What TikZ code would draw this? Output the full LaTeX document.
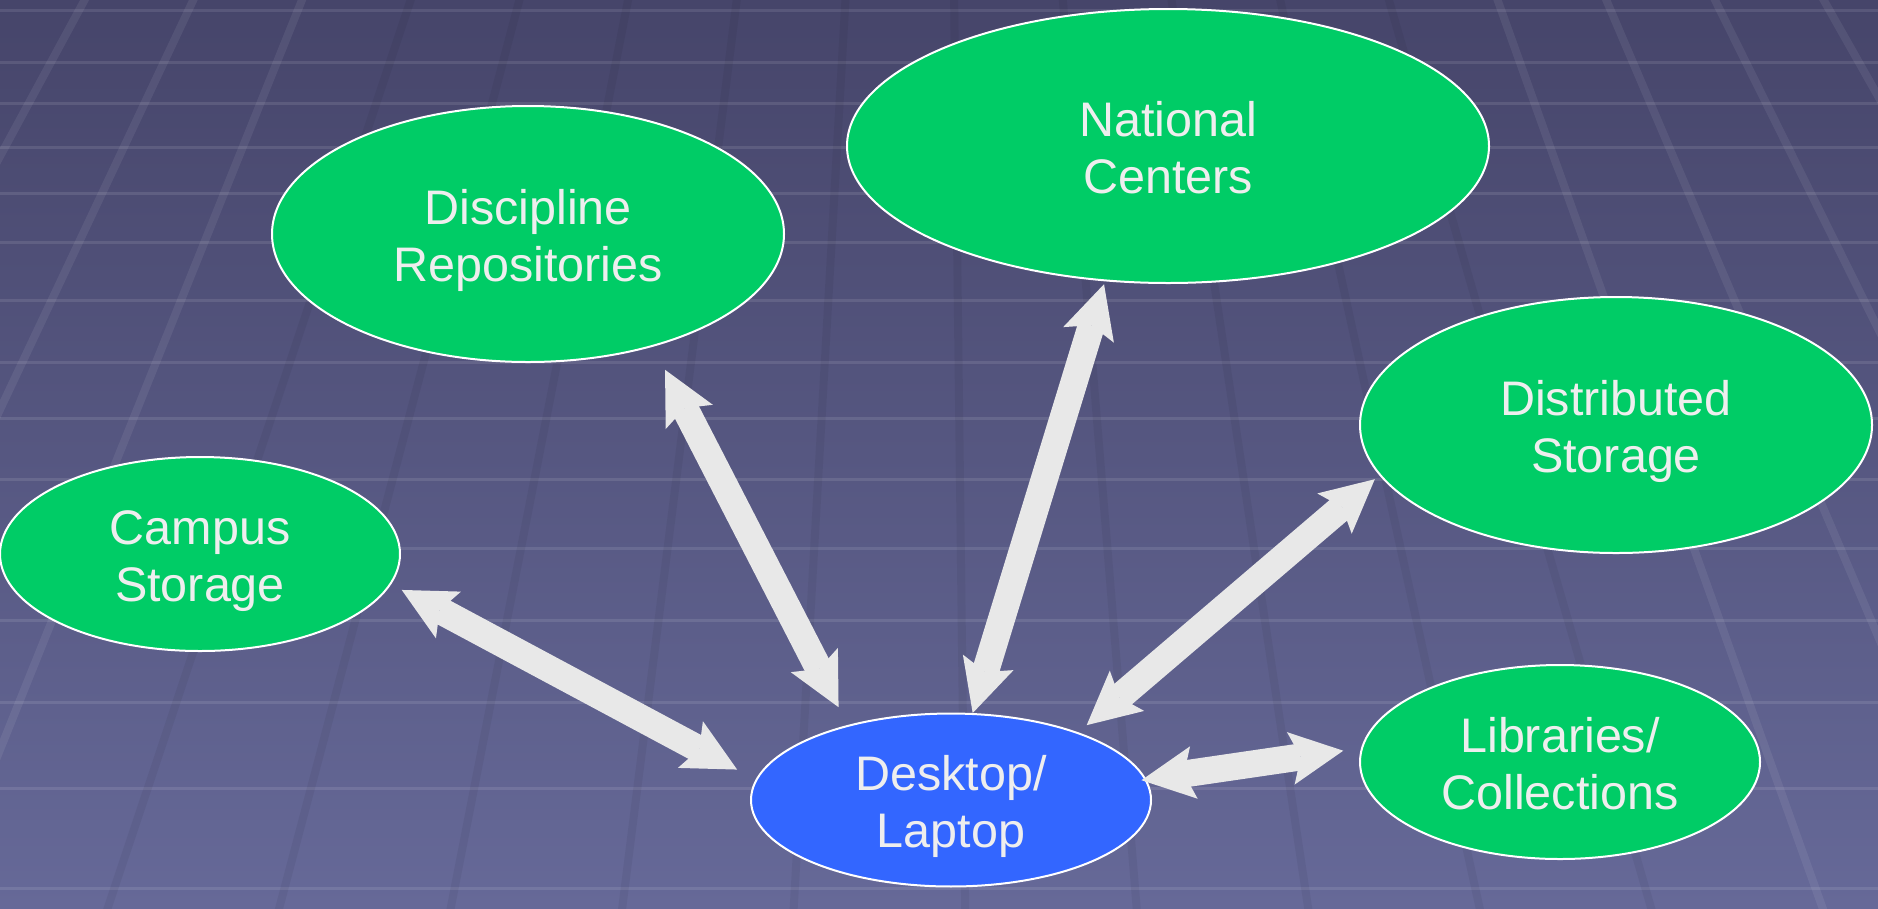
\documentclass[tikz,border=0pt]{standalone}
\usepackage{fontspec}
\setmainfont{Liberation Sans}
\usetikzlibrary{shapes.geometric, arrows.meta}
\definecolor{bgtop}{RGB}{70,69,106}
\definecolor{bgbottom}{RGB}{102,105,152}
\definecolor{leaf}{RGB}{0,204,102}
\definecolor{hub}{RGB}{51,102,255}
\definecolor{arrowgray}{RGB}{232,232,232}
\definecolor{labelgray}{RGB}{238,238,238}
% struts so that every two-line label sits alike
\newcommand{\lbltop}{\rule{0pt}{14.6pt}}
\newcommand{\lblbottom}{\rule[-4pt]{0pt}{4pt}}

\begin{document}
\begin{tikzpicture}[x=0.1mm, y=-0.1mm,
  >={Stealth[length=5.3mm, width=5.3mm, inset=1mm, line width=0pt]},
  store/.style={ellipse, draw=white, line width=0.2mm, fill=leaf, inner sep=0pt,
    text=labelgray, align=center, font=\fontsize{13.8}{16.2}\selectfont},
  link/.style={<->, arrowgray, line width=2.7mm}]

  % backdrop
  \useasboundingbox (0,0) rectangle (1878,908);
  \shade[top color=bgtop, bottom color=bgbottom] (0,0) rectangle (1878,908);
  \begin{scope}
    \clip (0,0) rectangle (1878,908);
    \foreach \y in {10,62,103,147,193,242,300,362,418,479,548,620,702,788,888}
      \draw[white, opacity=0.1, line width=0.3mm] (0,\y) -- (1878,\y);
    \foreach \k in {-1,0,1,2,13,14,15,16,17}
      \draw[white, opacity=0.07, line width=0.8mm]
        ({90+108*\k},-10) -- ({90+108*\k+0.5942*(90+108*\k-935)},918);
    \foreach \k in {3,...,12}
      \draw[black, opacity=0.05, line width=0.8mm]
        ({90+108*\k},-10) -- ({90+108*\k+0.5942*(90+108*\k-935)},918);
  \end{scope}

  \node[store, minimum width=51.2mm, minimum height=25.6mm] (disc) at (528,234) {\lbltop Discipline\\Repositories\lblbottom};
  \node[store, minimum width=64.2mm, minimum height=27.4mm] (nat) at (1168,146) {\lbltop National\\Centers\lblbottom};
  \node[store, minimum width=51.2mm, minimum height=25.6mm] (dist) at (1616,425) {\lbltop Distributed\\Storage\lblbottom};
  \node[store, minimum width=40mm, minimum height=19.4mm] (campus) at (200,554) {\lbltop Campus\\Storage\lblbottom};
  \node[store, minimum width=40mm, minimum height=19.4mm] (lib) at (1560,762) {\lbltop Libraries/\\Collections\lblbottom};
  \node[store, fill=hub, minimum width=40mm, minimum height=17.2mm] (desk) at (951,800) {\lbltop Desktop/\\Laptop\lblbottom};

  \draw[link, shorten <=2.1mm, shorten >=1.2mm] (desk.174) -- (campus.-9);
  \draw[link, shorten <=2mm, shorten >=2.6mm] (desk.144) -- (disc.-42);
  \draw[link, shorten >=0.3mm] (desk.76) -- (nat.-115);
  \draw[link, shorten <=1.1mm, shorten >=0.6mm] (desk.28) -- (dist.-168);
  \draw[link, shorten <=-0.5mm, shorten >=1.8mm] (desk.6) -- (lib.176);
\end{tikzpicture}
\end{document}
